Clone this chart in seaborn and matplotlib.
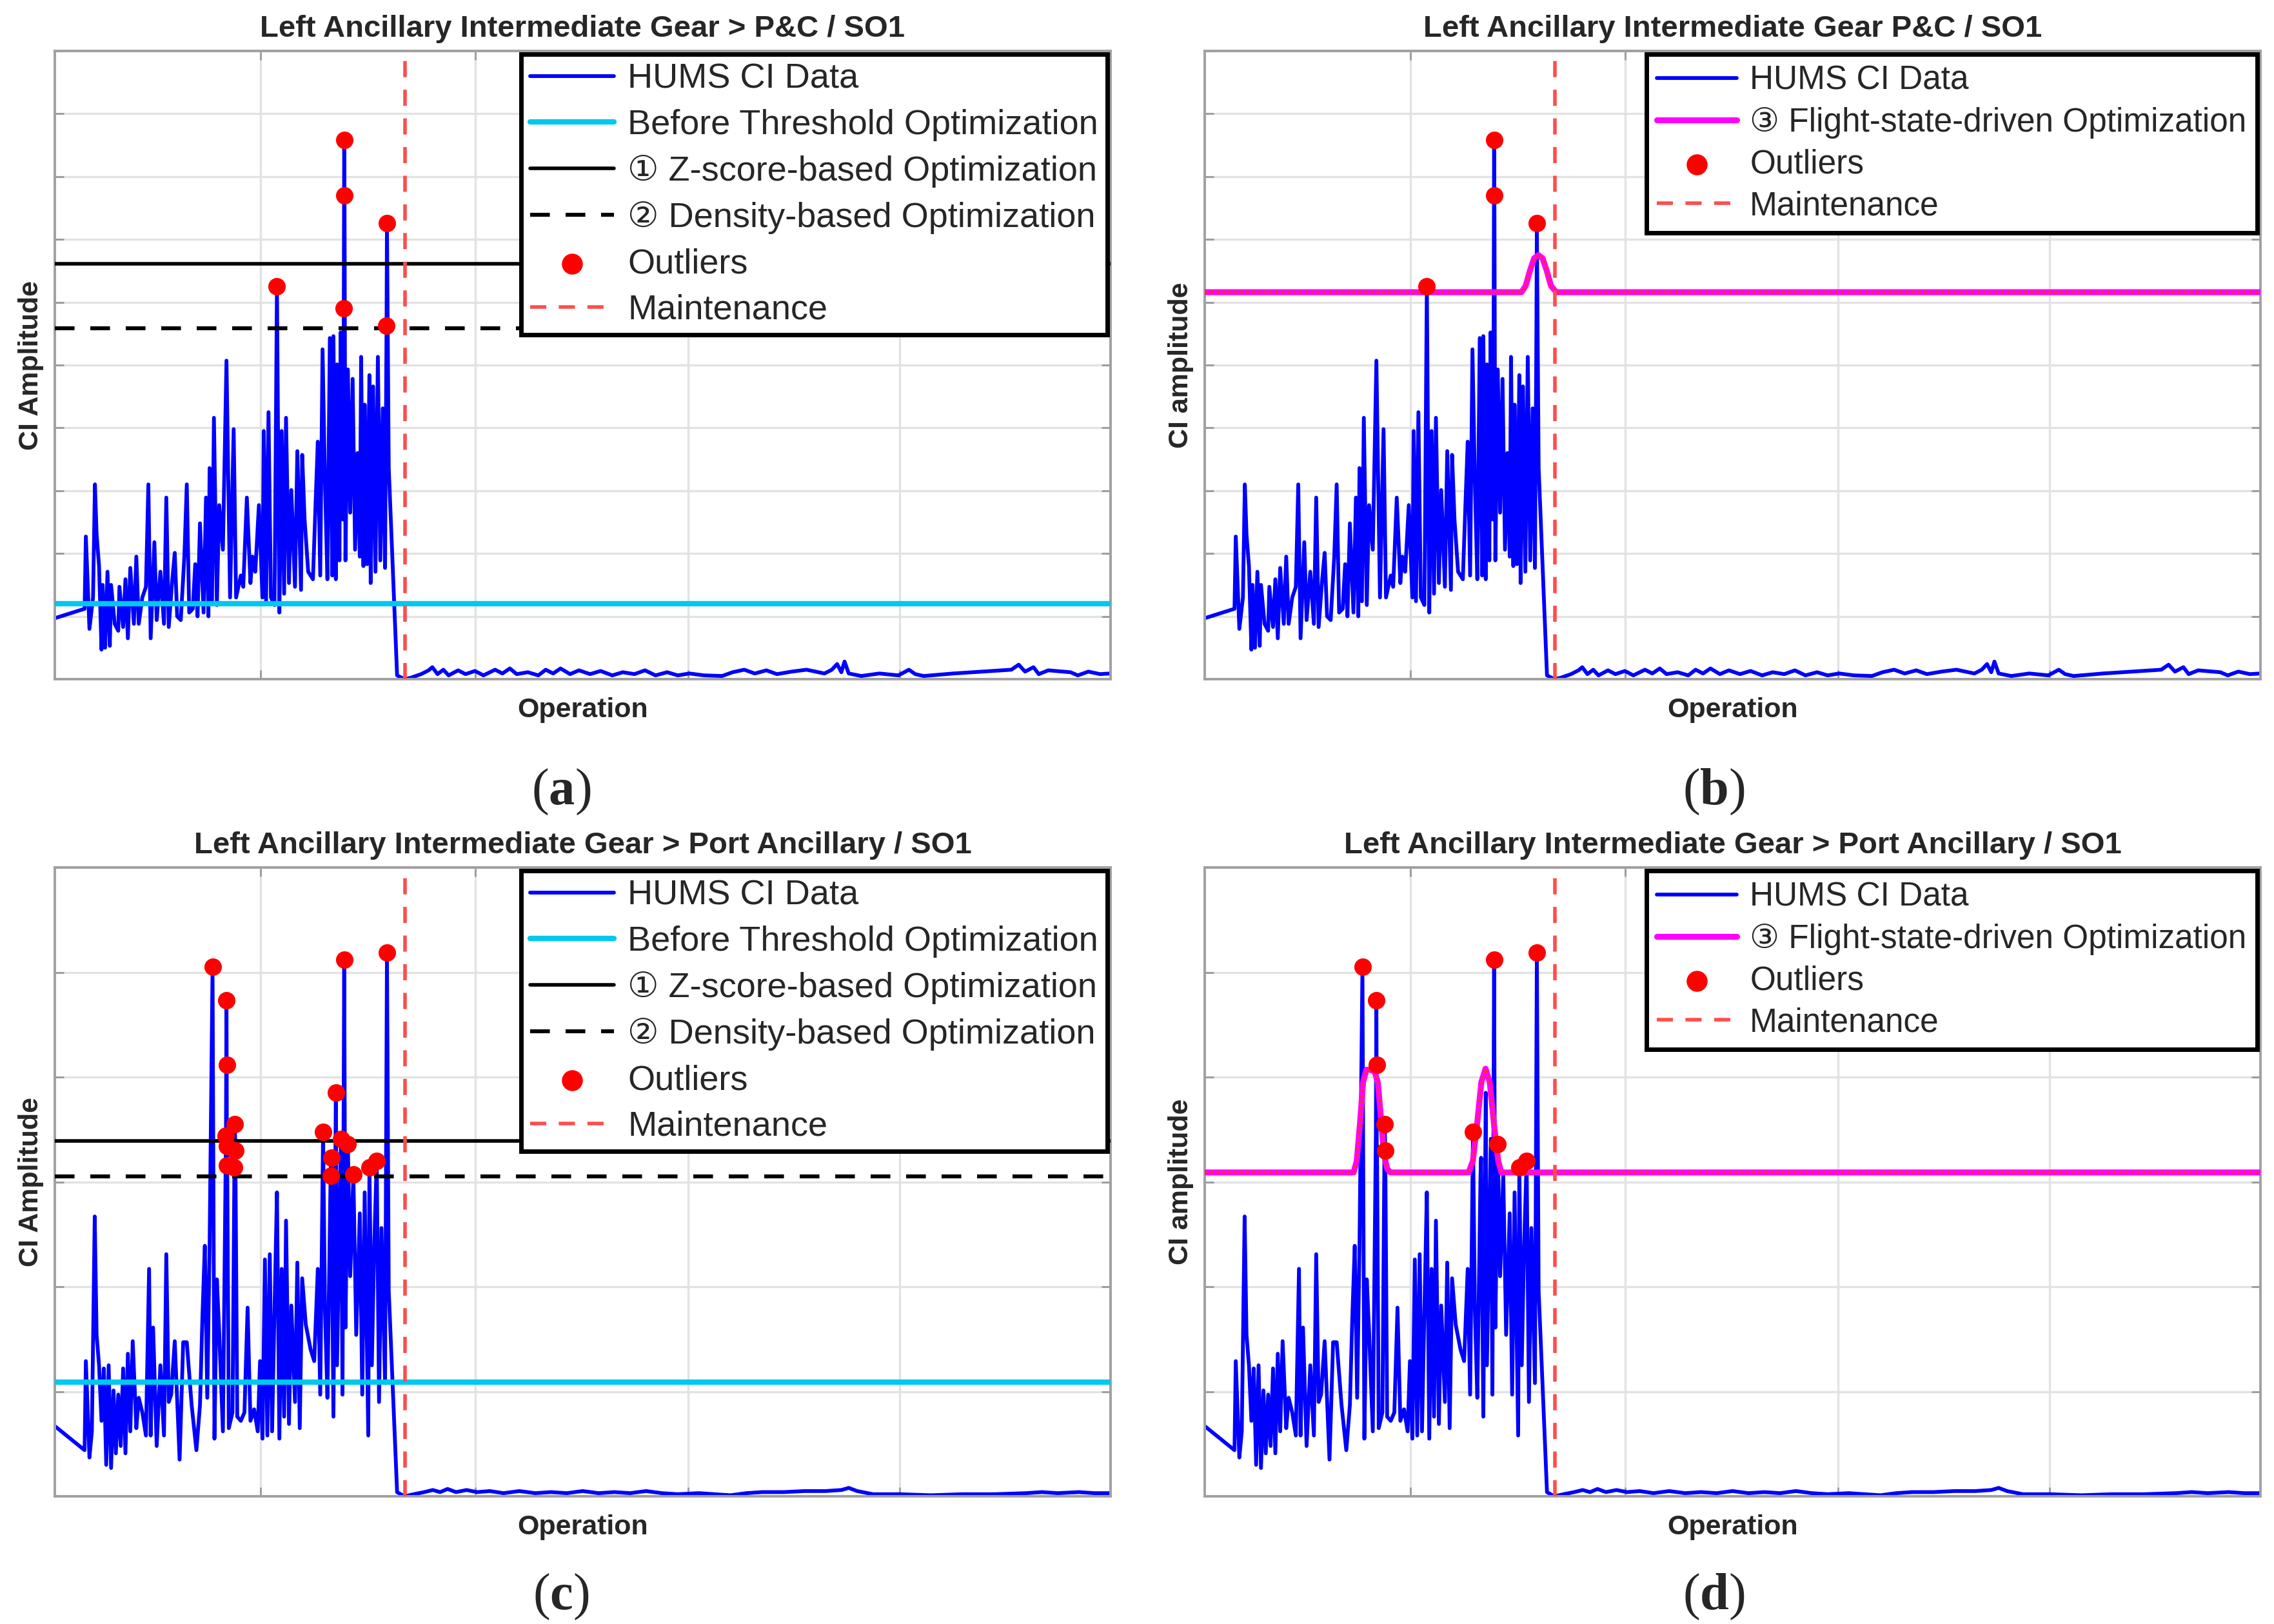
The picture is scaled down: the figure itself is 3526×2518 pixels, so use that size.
import numpy as np
import matplotlib
matplotlib.use("Agg")
import matplotlib.pyplot as plt
import seaborn as sns

# ---------------- data ----------------
# P&C / SO1 CI series (operation index, CI amplitude)
pc_x = [0, 28.2, 29.4, 32.8, 36.2, 38.0, 39.6, 41.9, 44.2, 45.3,
        47.6, 49.9, 52.1, 53.3, 56.7, 60.1, 61.2, 64.7, 66.9, 69.2,
        71.5, 74.9, 77.2, 79.5, 82.9, 86.3, 88.6, 90.8, 94.3, 96.5,
        100.0, 103.4, 105.6, 107.9, 111.3, 113.6, 115.9, 119.3, 122.7, 125.0,
        127.3, 130.7, 133.0, 135.2, 137.5, 140.9, 143.2, 145.5, 146.6, 148.9,
        150.7, 153.5, 155.7, 159.2, 162.6, 166.0, 169.4, 171.7, 176.2, 178.5,
        181.9, 185.3, 187.2, 189.9, 193.3, 196.7, 197.9, 200.1, 202.4, 204.7,
        208.1, 210.4, 212.7, 214.9, 217.2, 219.0, 221.8, 224.0, 227.5, 229.7,
        233.2, 234.3, 236.6, 240.0, 244.5, 246.8, 249.1, 251.4, 253.6, 255.9,
        258.2, 260.5, 262.8, 263.9, 266.2, 267.3, 269.6, 270.7, 273.0, 273.7,
        274.1, 274.4, 275.3, 277.6, 279.8, 282.1, 284.4, 286.7, 288.9, 290.1,
        292.3, 293.5, 295.8, 298.0, 299.2, 301.5, 303.7, 306.0, 308.3, 310.6,
        312.8, 314.2, 314.6, 316.3, 324.2]
pc_y = [0.97, 1.12, 2.27, 0.80, 1.30, 3.10, 2.30, 1.80, 0.47, 1.50,
        0.50, 1.71, 0.53, 1.50, 0.88, 0.77, 1.47, 0.83, 1.59, 0.65,
        1.77, 0.88, 1.95, 0.88, 1.30, 1.47, 3.10, 0.65, 2.18, 0.94,
        1.71, 0.88, 2.89, 0.83, 1.59, 2.01, 1.00, 0.94, 1.95, 3.10,
        1.06, 1.12, 1.83, 1.00, 2.48, 1.06, 2.89, 1.00, 3.36, 1.24,
        4.16, 1.18, 2.77, 2.06, 5.07, 1.30, 3.98, 1.30, 1.65, 1.47,
        2.89, 1.53, 1.95, 1.71, 2.77, 1.30, 3.95, 1.24, 4.25, 1.30,
        1.18, 6.25, 1.06, 3.95, 1.36, 4.16, 1.53, 3.01, 1.47, 3.63,
        1.42, 3.57, 2.54, 1.71, 1.59, 2.71, 3.78, 1.65, 5.25, 3.13,
        1.59, 5.43, 1.65, 5.46, 1.59, 5.01, 1.89, 5.52, 2.54, 5.90,
        8.58, 7.70, 1.89, 4.93, 2.65, 4.78, 2.06, 3.60, 1.95, 5.13,
        1.80, 4.37, 1.83, 4.84, 1.53, 4.66, 1.71, 5.13, 1.89, 4.31,
        1.77, 5.63, 7.26, 3.36, 0.06]
pc_post_x = [331, 336.8, 347, 354, 357.6, 362.5, 368, 373, 382, 389,
             398, 406, 417, 424, 431, 437.5, 448, 458, 465, 472,
             479, 488, 496.5, 507, 517, 528, 538, 549, 559, 569,
             580, 590, 601, 615, 632, 642, 653, 663, 674, 684,
             698, 712, 729, 736, 741, 745, 748, 752, 764, 781,
             799, 809, 815, 823, 851, 878, 906, 913, 919, 927,
             932, 941, 962, 969, 979, 990, 1000]
pc_post_y = [0.0, 0.02, 0.08, 0.14, 0.19, 0.08, 0.15, 0.06, 0.14, 0.08,
             0.13, 0.06, 0.15, 0.09, 0.17, 0.08, 0.11, 0.06, 0.15, 0.09,
             0.17, 0.08, 0.14, 0.08, 0.13, 0.06, 0.11, 0.08, 0.14, 0.06,
             0.11, 0.06, 0.09, 0.06, 0.05, 0.11, 0.15, 0.09, 0.14, 0.08,
             0.12, 0.15, 0.09, 0.15, 0.24, 0.11, 0.28, 0.09, 0.05, 0.09,
             0.06, 0.15, 0.08, 0.05, 0.09, 0.12, 0.15, 0.23, 0.12, 0.19,
             0.08, 0.14, 0.11, 0.06, 0.12, 0.08, 0.09]

# Port Ancillary / SO1 CI series
pa_x = [0, 28.2, 29.4, 32.8, 35.1, 37.8, 39.6, 41.9, 44.2, 46.4,
        48.7, 51.0, 53.3, 55.6, 57.8, 60.1, 62.4, 64.7, 66.9, 69.2,
        71.5, 73.8, 77.2, 79.5, 82.9, 86.3, 89.3, 90.8, 93.1, 96.5,
        100.0, 103.4, 105.6, 107.9, 110.2, 113.6, 118.2, 121.6, 125.0, 129.6,
        134.1, 137.5, 139.8, 142.1, 144.4, 146.6, 149.4, 151.2, 153.5, 155.7,
        159.2, 162.1, 162.6, 162.8, 163.0, 163.2, 164.8, 168.3, 170.1, 170.5,
        171.0, 172.8, 176.2, 179.6, 182.6, 185.3, 188.8, 192.2, 194.4, 196.7,
        199.0, 201.3, 203.6, 205.8, 208.1, 210.4, 212.7, 214.9, 217.2, 219.0,
        221.8, 224.0, 227.5, 229.7, 232.0, 234.3, 237.7, 242.3, 245.7, 249.1,
        251.4, 254.1, 255.9, 258.2, 261.2, 261.8, 263.9, 266.2, 267.3, 271.0,
        272.5, 274.1, 275.3, 277.6, 279.8, 282.8, 285.5, 288.9, 291.2, 293.5,
        296.9, 298.0, 300.3, 302.6, 304.9, 307.1, 309.4, 312.8, 314.6, 316.3,
        324.2]
pa_y = [0.67, 0.44, 1.29, 0.37, 0.62, 2.67, 1.54, 1.25, 0.72, 1.22,
        0.30, 1.25, 0.27, 1.01, 0.41, 0.97, 0.48, 1.22, 0.41, 1.36,
        0.62, 1.48, 0.65, 0.94, 0.80, 0.58, 2.17, 0.58, 1.61, 0.48,
        1.25, 0.58, 2.31, 0.90, 0.97, 1.48, 0.35, 1.47, 1.47, 0.87,
        0.44, 0.87, 1.71, 2.39, 0.94, 2.39, 5.05, 0.55, 2.07, 1.57,
        0.62, 3.44, 4.73, 4.12, 3.16, 3.34, 0.65, 0.80, 3.14, 3.55,
        3.30, 0.76, 0.72, 0.80, 1.80, 0.72, 0.83, 0.62, 1.29, 0.55,
        2.26, 0.58, 2.31, 0.62, 1.78, 2.90, 0.55, 2.17, 0.76, 2.63,
        0.69, 1.82, 0.90, 2.23, 0.65, 2.08, 1.64, 1.40, 1.29, 2.17,
        0.97, 3.48, 1.78, 0.94, 3.06, 3.23, 0.76, 3.85, 1.25, 3.41,
        0.97, 5.12, 1.61, 3.36, 2.10, 3.07, 1.54, 2.70, 0.97, 2.90,
        0.58, 3.14, 1.25, 2.42, 3.20, 0.90, 2.56, 1.08, 5.19, 1.96,
        0.04]
pa_post_x = [331, 340, 350, 358, 365, 372, 380, 390, 400, 412,
             425, 440, 455, 470, 485, 500, 515, 530, 545, 560,
             575, 590, 610, 625, 640, 655, 670, 690, 710, 730,
             745, 752, 760, 775, 800, 830, 860, 890, 920, 935,
             950, 970, 985, 1000]
pa_post_y = [0.0, 0.02, 0.04, 0.06, 0.04, 0.07, 0.04, 0.06, 0.04, 0.05,
             0.03, 0.05, 0.03, 0.04, 0.03, 0.05, 0.03, 0.04, 0.03, 0.05,
             0.03, 0.02, 0.03, 0.02, 0.01, 0.03, 0.04, 0.04, 0.05, 0.05,
             0.06, 0.08, 0.05, 0.02, 0.02, 0.01, 0.02, 0.02, 0.03, 0.04,
             0.03, 0.04, 0.03, 0.03]

# thresholds
pc_before, pc_zscore, pc_density = 1.20, 6.61, 5.59
pa_before, pa_zscore, pa_density = 1.09, 3.39, 3.05
# flight-state-driven thresholds
pc_fs_x = [0, 300, 304, 308, 312, 316, 320, 324, 328, 333, 1000]
pc_fs_y = [6.16, 6.16, 6.26, 6.50, 6.70, 6.75, 6.70, 6.50, 6.26, 6.16, 6.16]
pa_fs_x = [0, 141, 144, 147, 150, 153, 157, 161, 164, 167, 170, 173, 176,
           250, 254, 258, 262, 266, 270, 274, 278, 281, 1000]
pa_fs_y = [3.09, 3.09, 3.20, 3.55, 3.95, 4.07, 4.07, 4.05, 3.95, 3.60, 3.25, 3.12, 3.09,
           3.09, 3.20, 3.55, 3.95, 4.08, 3.95, 3.55, 3.20, 3.09, 3.09]

maintenance_x = 332
grid_x = [195, 398, 600, 800]

titles = ["Left Ancillary Intermediate Gear > P&C / SO1",
          "Left Ancillary Intermediate Gear P&C / SO1",
          "Left Ancillary Intermediate Gear > Port Ancillary / SO1",
          "Left Ancillary Intermediate Gear > Port Ancillary / SO1"]
ylabels = ["CI Amplitude", "CI amplitude", "CI Amplitude", "CI amplitude"]
panel_tags = ["a", "b", "c", "d"]

LBL_DATA = "HUMS CI Data"
LBL_BEFORE = "Before Threshold Optimization"
LBL_Z = "\u2460 Z-score-based Optimization"
LBL_D = "\u2461 Density-based Optimization"
LBL_FS = "\u2462 Flight-state-driven Optimization"
LBL_OUT = "Outliers"
LBL_MAINT = "Maintenance"

# ---------------- style ----------------
sns.set_theme(style="white")
plt.rcParams["font.family"] = ["Liberation Sans", "DejaVu Sans"]
plt.rcParams["mathtext.fontset"] = "custom"
plt.rcParams["mathtext.rm"] = "Liberation Serif"
plt.rcParams["mathtext.bf"] = "Liberation Serif:bold"

W, H = 3526, 2518
fig = plt.figure(figsize=(W / 200, H / 200), dpi=200)
fig.patch.set_facecolor("white")


def px_axes(left, top, right, bottom):
    return fig.add_axes([left / W, 1 - bottom / H, (right - left) / W, (bottom - top) / H])


axes = [px_axes(85, 79, 1722, 1053), px_axes(1868, 79, 3505, 1053),
        px_axes(85, 1345, 1722, 2320), px_axes(1868, 1345, 3505, 2320)]


def style_ax(ax, ymax, title, ylabel):
    ax.set_xlim(0, 1000)
    ax.set_ylim(0, ymax)
    ax.set_xticks(grid_x)
    ax.set_yticks(np.arange(0, ymax + 1, 1))
    ax.grid(True, color="#e2e2e2", lw=1.2)
    ax.set_axisbelow(True)
    ax.tick_params(direction="in", length=5, width=1.0, color="#9a9a9a",
                   top=True, right=True, bottom=True, left=True,
                   labelbottom=False, labelleft=False)
    for s in ax.spines.values():
        s.set_color("#a0a0a0")
        s.set_linewidth(1.4)
    ax.set_title(title, fontsize=17, fontweight="bold", pad=8)
    ax.set_xlabel("Operation", fontsize=15.5, fontweight="bold", labelpad=10)
    ax.set_ylabel(ylabel, fontsize=15.5, fontweight="bold", labelpad=6)


def draw_panel(ax, x, y, px, py, mode, thr, ymax, title, ylabel, fsize, lspace, bpad):
    xs = np.array(x + px, dtype=float)
    ys = np.array(y + py, dtype=float)
    sns.lineplot(x=xs, y=ys, ax=ax, color="#0000ff", lw=2.1, sort=False,
                 estimator=None, label=LBL_DATA, zorder=2)
    pre_x = np.array(x, dtype=float)
    pre_y = np.array(y, dtype=float)
    if mode == "static":
        before, zs, dens = thr
        ax.axhline(before, color="#00c8ee", lw=3.0, label=LBL_BEFORE, zorder=3)
        ax.axhline(zs, color="black", lw=2.0, label=LBL_Z, zorder=3)
        ax.axhline(dens, color="black", lw=2.2, ls=(0, (5, 4)), label=LBL_D, zorder=3)
        mask = pre_y > min(zs, dens)
        order = [LBL_DATA, LBL_BEFORE, LBL_Z, LBL_D, LBL_OUT, LBL_MAINT]
    else:
        fx, fy = thr
        sns.lineplot(x=fx, y=fy, ax=ax, color="#ff00ff", lw=3.3, sort=False,
                     estimator=None, label=LBL_FS, zorder=3)
        ax.plot(fx, fy, color="#ff2d2d", lw=1.5, ls=(0, (1, 1.2)), zorder=3.1)
        mask = pre_y > np.interp(pre_x, fx, fy)
        order = [LBL_DATA, LBL_FS, LBL_OUT, LBL_MAINT]
    ax.axvline(maintenance_x, color="#ff4d4d", lw=2.0, ls=(0, (4.5, 3.5)),
               label=LBL_MAINT, zorder=4)
    sns.scatterplot(x=pre_x[mask], y=pre_y[mask], ax=ax, color="#ff0000", s=95,
                    linewidth=0, label=LBL_OUT, zorder=5)
    style_ax(ax, ymax, title, ylabel)
    h, l = ax.get_legend_handles_labels()
    hmap = dict(zip(l, h))
    leg = ax.legend([hmap[k] for k in order], order, loc="upper right",
                    fontsize=fsize, frameon=True, fancybox=False, framealpha=1,
                    edgecolor="black", borderpad=bpad, labelspacing=lspace,
                    handlelength=2.4, handletextpad=0.4, borderaxespad=0.1,
                    markerscale=1.2)
    leg.get_frame().set_linewidth(2.5)
    leg.set_zorder(10)


draw_panel(axes[0], pc_x, pc_y, pc_post_x, pc_post_y, "static",
           (pc_before, pc_zscore, pc_density), 10, titles[0], ylabels[0], 19.5, 0.39, 0.25)
draw_panel(axes[1], pc_x, pc_y, pc_post_x, pc_post_y, "fs",
           (pc_fs_x, pc_fs_y), 10, titles[1], ylabels[1], 18.5, 0.31, 0.32)
draw_panel(axes[2], pa_x, pa_y, pa_post_x, pa_post_y, "static",
           (pa_before, pa_zscore, pa_density), 6, titles[2], ylabels[2], 19.5, 0.39, 0.25)
draw_panel(axes[3], pa_x, pa_y, pa_post_x, pa_post_y, "fs",
           (pa_fs_x, pa_fs_y), 6, titles[3], ylabels[3], 18.5, 0.31, 0.32)

# panel tags
for tag, cx, cy in zip(panel_tags, [870, 2657, 870, 2657], [1228, 1228, 2476, 2476]):
    fig.text(cx / W, 1 - cy / H, "($\\mathbf{%s}$)" % tag, ha="center", va="center",
             fontsize=29, family="Liberation Serif")

fig.savefig("out.png", dpi=200, facecolor="white")
